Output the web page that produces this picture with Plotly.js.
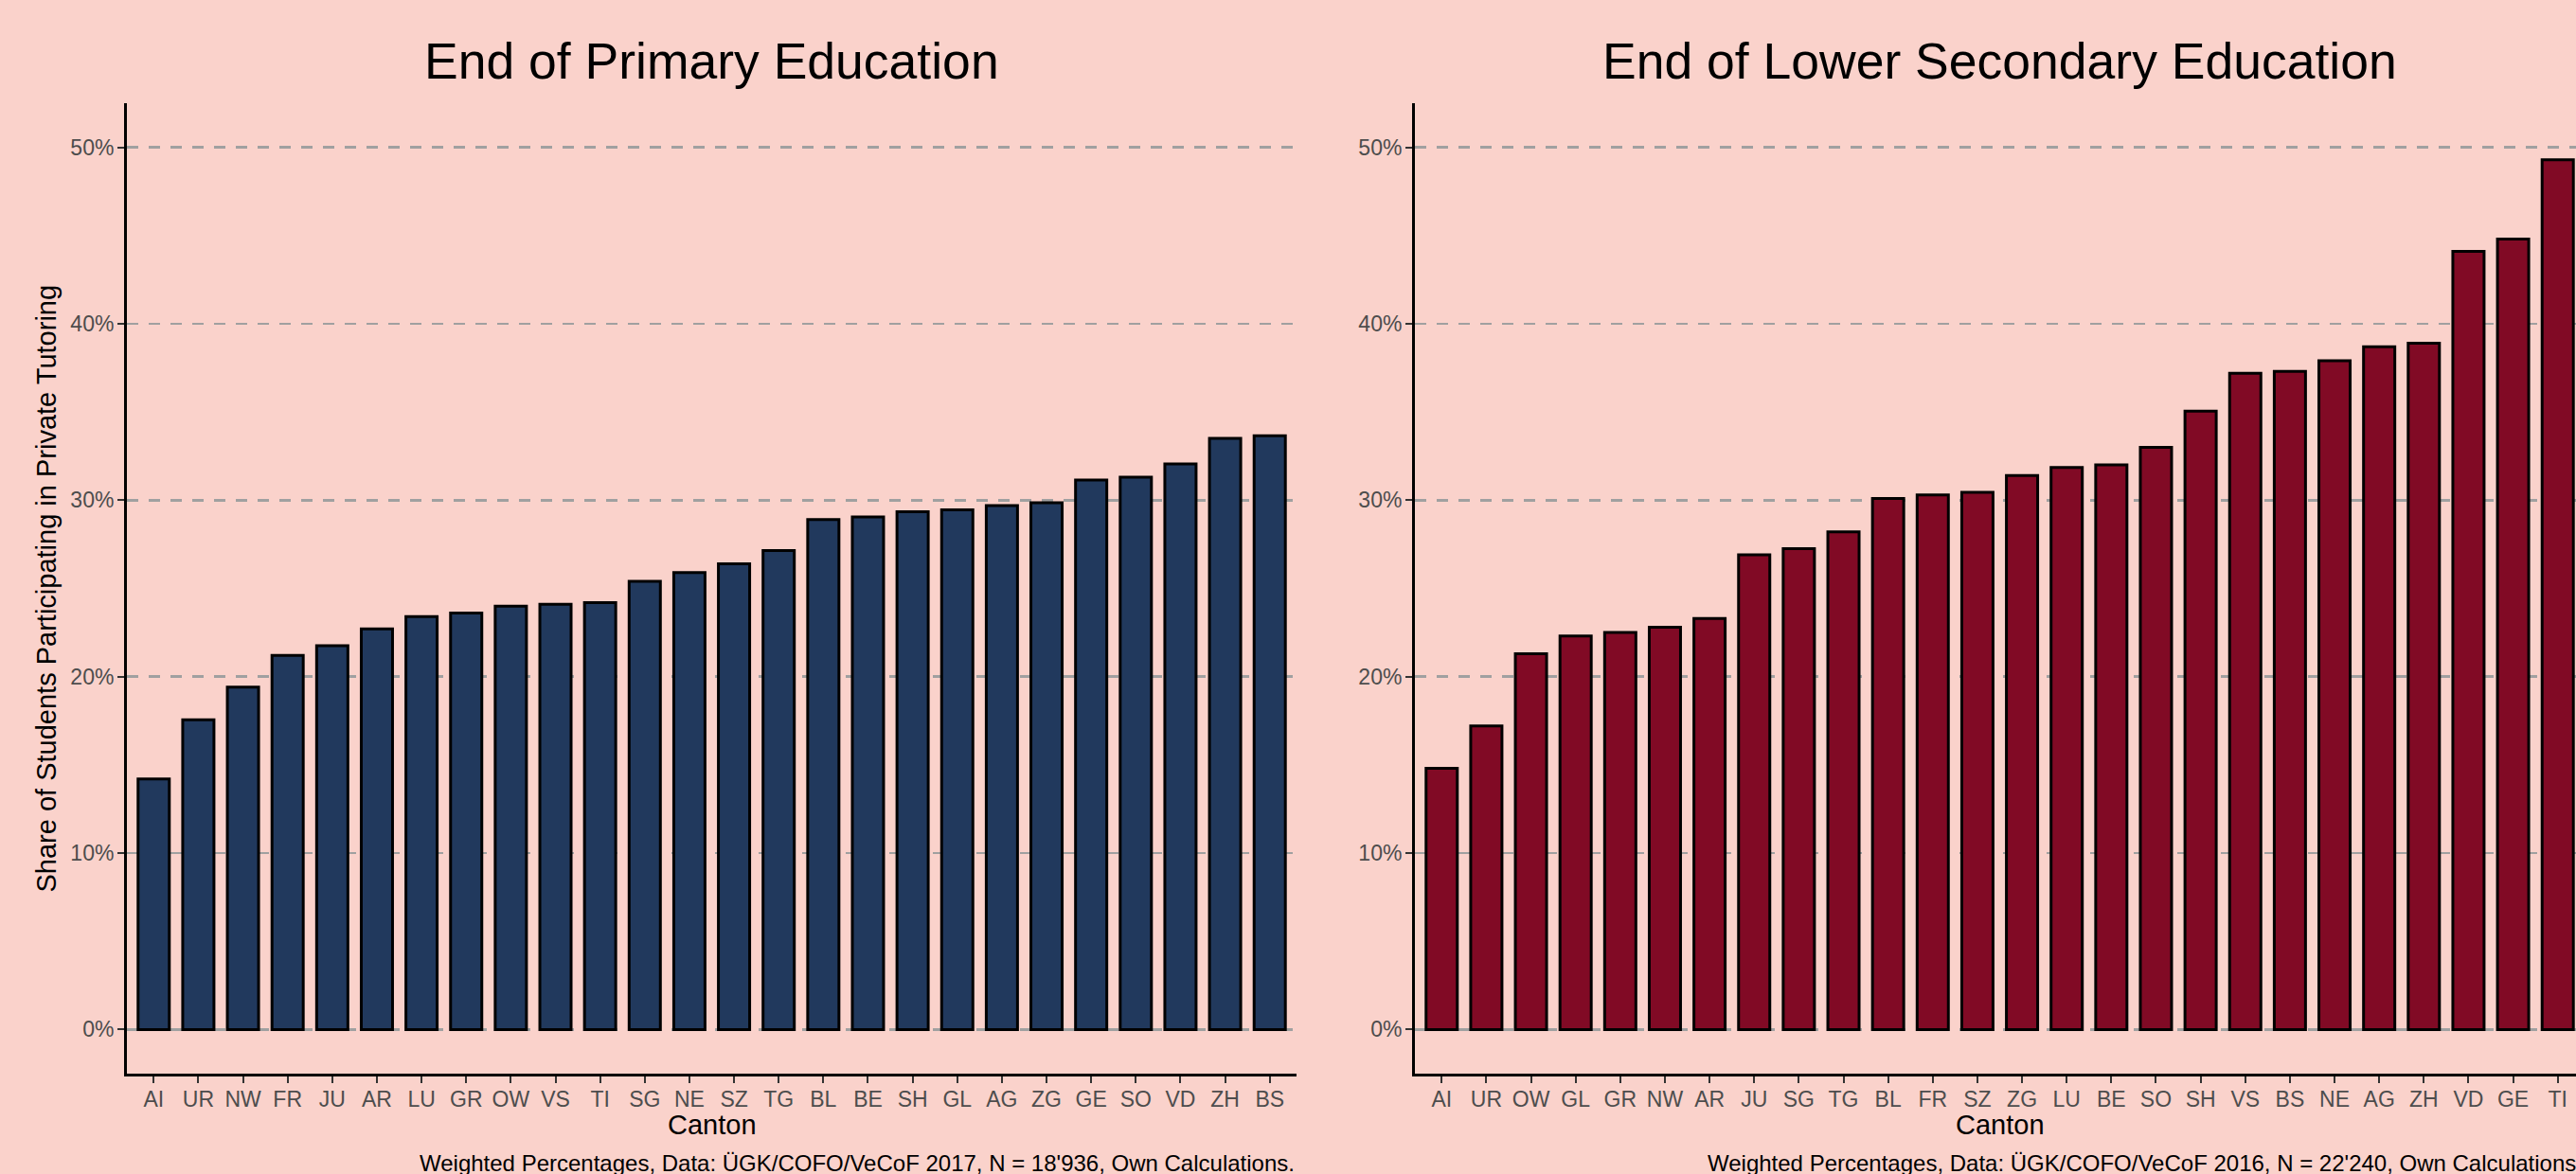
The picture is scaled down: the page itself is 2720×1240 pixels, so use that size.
<!DOCTYPE html>
<html>
<head>
<meta charset="utf-8">
<script src="https://cdn.plot.ly/plotly-3.0.1.min.js"></script>
<style>
html, body { margin: 0; padding: 0; overflow: hidden; background: #FAD2CB; }
#chart { width: 2740px; height: 1240px; }
</style>
</head>
<body>
<div id="chart"></div>
<script>
// ---- Data (share of students in private tutoring, %) ----
const primaryCantons = ["AI","UR","NW","FR","JU","AR","LU","GR","OW","VS","TI","SG","NE","SZ","TG","BL","BE","SH","GL","AG","ZG","GE","SO","VD","ZH","BS"];
const primaryValues  = [14.2,17.55,19.4,21.2,21.75,22.7,23.4,23.6,24.0,24.1,24.2,25.4,25.9,26.4,27.15,28.9,29.05,29.35,29.45,29.7,29.85,31.15,31.3,32.05,33.5,33.65];

const secondaryCantons = ["AI","UR","OW","GL","GR","NW","AR","JU","SG","TG","BL","FR","SZ","ZG","LU","BE","SO","SH","VS","BS","NE","AG","ZH","VD","GE","TI"];
const secondaryValues  = [14.8,17.2,21.3,22.3,22.5,22.8,23.3,26.9,27.25,28.2,30.1,30.3,30.45,31.4,31.85,32.0,33.0,35.05,37.2,37.3,37.9,38.7,38.9,44.1,44.8,49.3];

const yTickVals = [0,10,20,30,40,50];
const yTickText = ["0%","10%","20%","30%","40%","50%"];

const titles = ["End of Primary Education","End of Lower Secondary Education"];
const xTitle = "Canton";
const yTitle = "Share of Students Participating in Private Tutoring";
const captions = [
  "Weighted Percentages, Data: ÜGK/COFO/VeCoF 2017, N = 18'936, Own Calculations.",
  "Weighted Percentages, Data: ÜGK/COFO/VeCoF 2016, N = 22'240, Own Calculations."
];

// ---- Layout helpers ----
const W = 2740, H = 1240;
const fx = x => x / W;
const fy = y => 1 - y / H;
const FONT = "Liberation Sans, Arial, Helvetica, sans-serif";
const BG = "#FAD2CB";

const traces = [
  {type: "bar", x: primaryCantons, y: primaryValues, xaxis: "x", yaxis: "y",
   marker: {color: "#21395D", line: {color: "#000000", width: 3}}, hoverinfo: "x+y"},
  {type: "bar", x: secondaryCantons, y: secondaryValues, xaxis: "x2", yaxis: "y2",
   marker: {color: "#810A25", line: {color: "#000000", width: 3}}, hoverinfo: "x+y"}
];

function xAxis(domain, anchor) {
  return {
    domain: domain, anchor: anchor, type: "category",
    range: [-0.6, 25.6], showgrid: false, zeroline: false,
    showline: true, linecolor: "#000000", linewidth: 3,
    ticks: "outside", ticklen: 7, tickwidth: 2, tickcolor: "#333333",
    tickfont: {family: FONT, size: 23, color: "#4D4D4D"},
    ticklabelstandoff: -3,
    automargin: false, fixedrange: true
  };
}
function yAxis(anchor) {
  return {
    domain: [fy(1134), fy(109)], anchor: anchor,
    range: [-2.5, 52.5], tickvals: yTickVals, ticktext: yTickText,
    showgrid: true, gridcolor: "#A0A0A0", gridwidth: 2.5, griddash: "12px,11px",
    zeroline: false,
    showline: true, linecolor: "#000000", linewidth: 3,
    ticks: "outside", ticklen: 7, tickwidth: 2, tickcolor: "#333333",
    tickfont: {family: FONT, size: 23, color: "#4D4D4D"},
    ticklabelstandoff: -1,
    automargin: false, fixedrange: true
  };
}

const leftDom = [fx(134), fx(1369)];
const rightDom = [fx(1494), fx(2729)];

const ann = (text, x, y, size, opts) => Object.assign({
  text: text, x: x, y: y, xref: "paper", yref: "paper",
  showarrow: false, font: {family: FONT, size: size, color: "#000000"},
  xanchor: "center", yanchor: "middle"
}, opts || {});

const layout = {
  width: W, height: H,
  paper_bgcolor: BG, plot_bgcolor: BG,
  margin: {l: 0, r: 0, t: 0, b: 0},
  showlegend: false, bargap: 0.3,
  font: {family: FONT},
  xaxis: xAxis(leftDom, "y"),
  yaxis: yAxis("x"),
  xaxis2: xAxis(rightDom, "y2"),
  yaxis2: yAxis("x2"),
  annotations: [
    ann(titles[0], fx((134 + 1369) / 2), fy(64), 53.5),
    ann(titles[1], fx((1494 + 2729) / 2), fy(64), 53.5),
    ann(xTitle, fx((134 + 1369) / 2), fy(1188), 29),
    ann(xTitle, fx((1494 + 2729) / 2), fy(1188), 29),
    ann(yTitle, fx(48), fy(621.5), 29, {textangle: -90}),
    ann(captions[0], fx(1369), fy(1228), 24, {xanchor: "right"}),
    ann(captions[1], fx(2729), fy(1228), 24, {xanchor: "right"})
  ]
};

Plotly.newPlot("chart", traces, layout, {staticPlot: true, displayModeBar: false});
</script>
</body>
</html>
